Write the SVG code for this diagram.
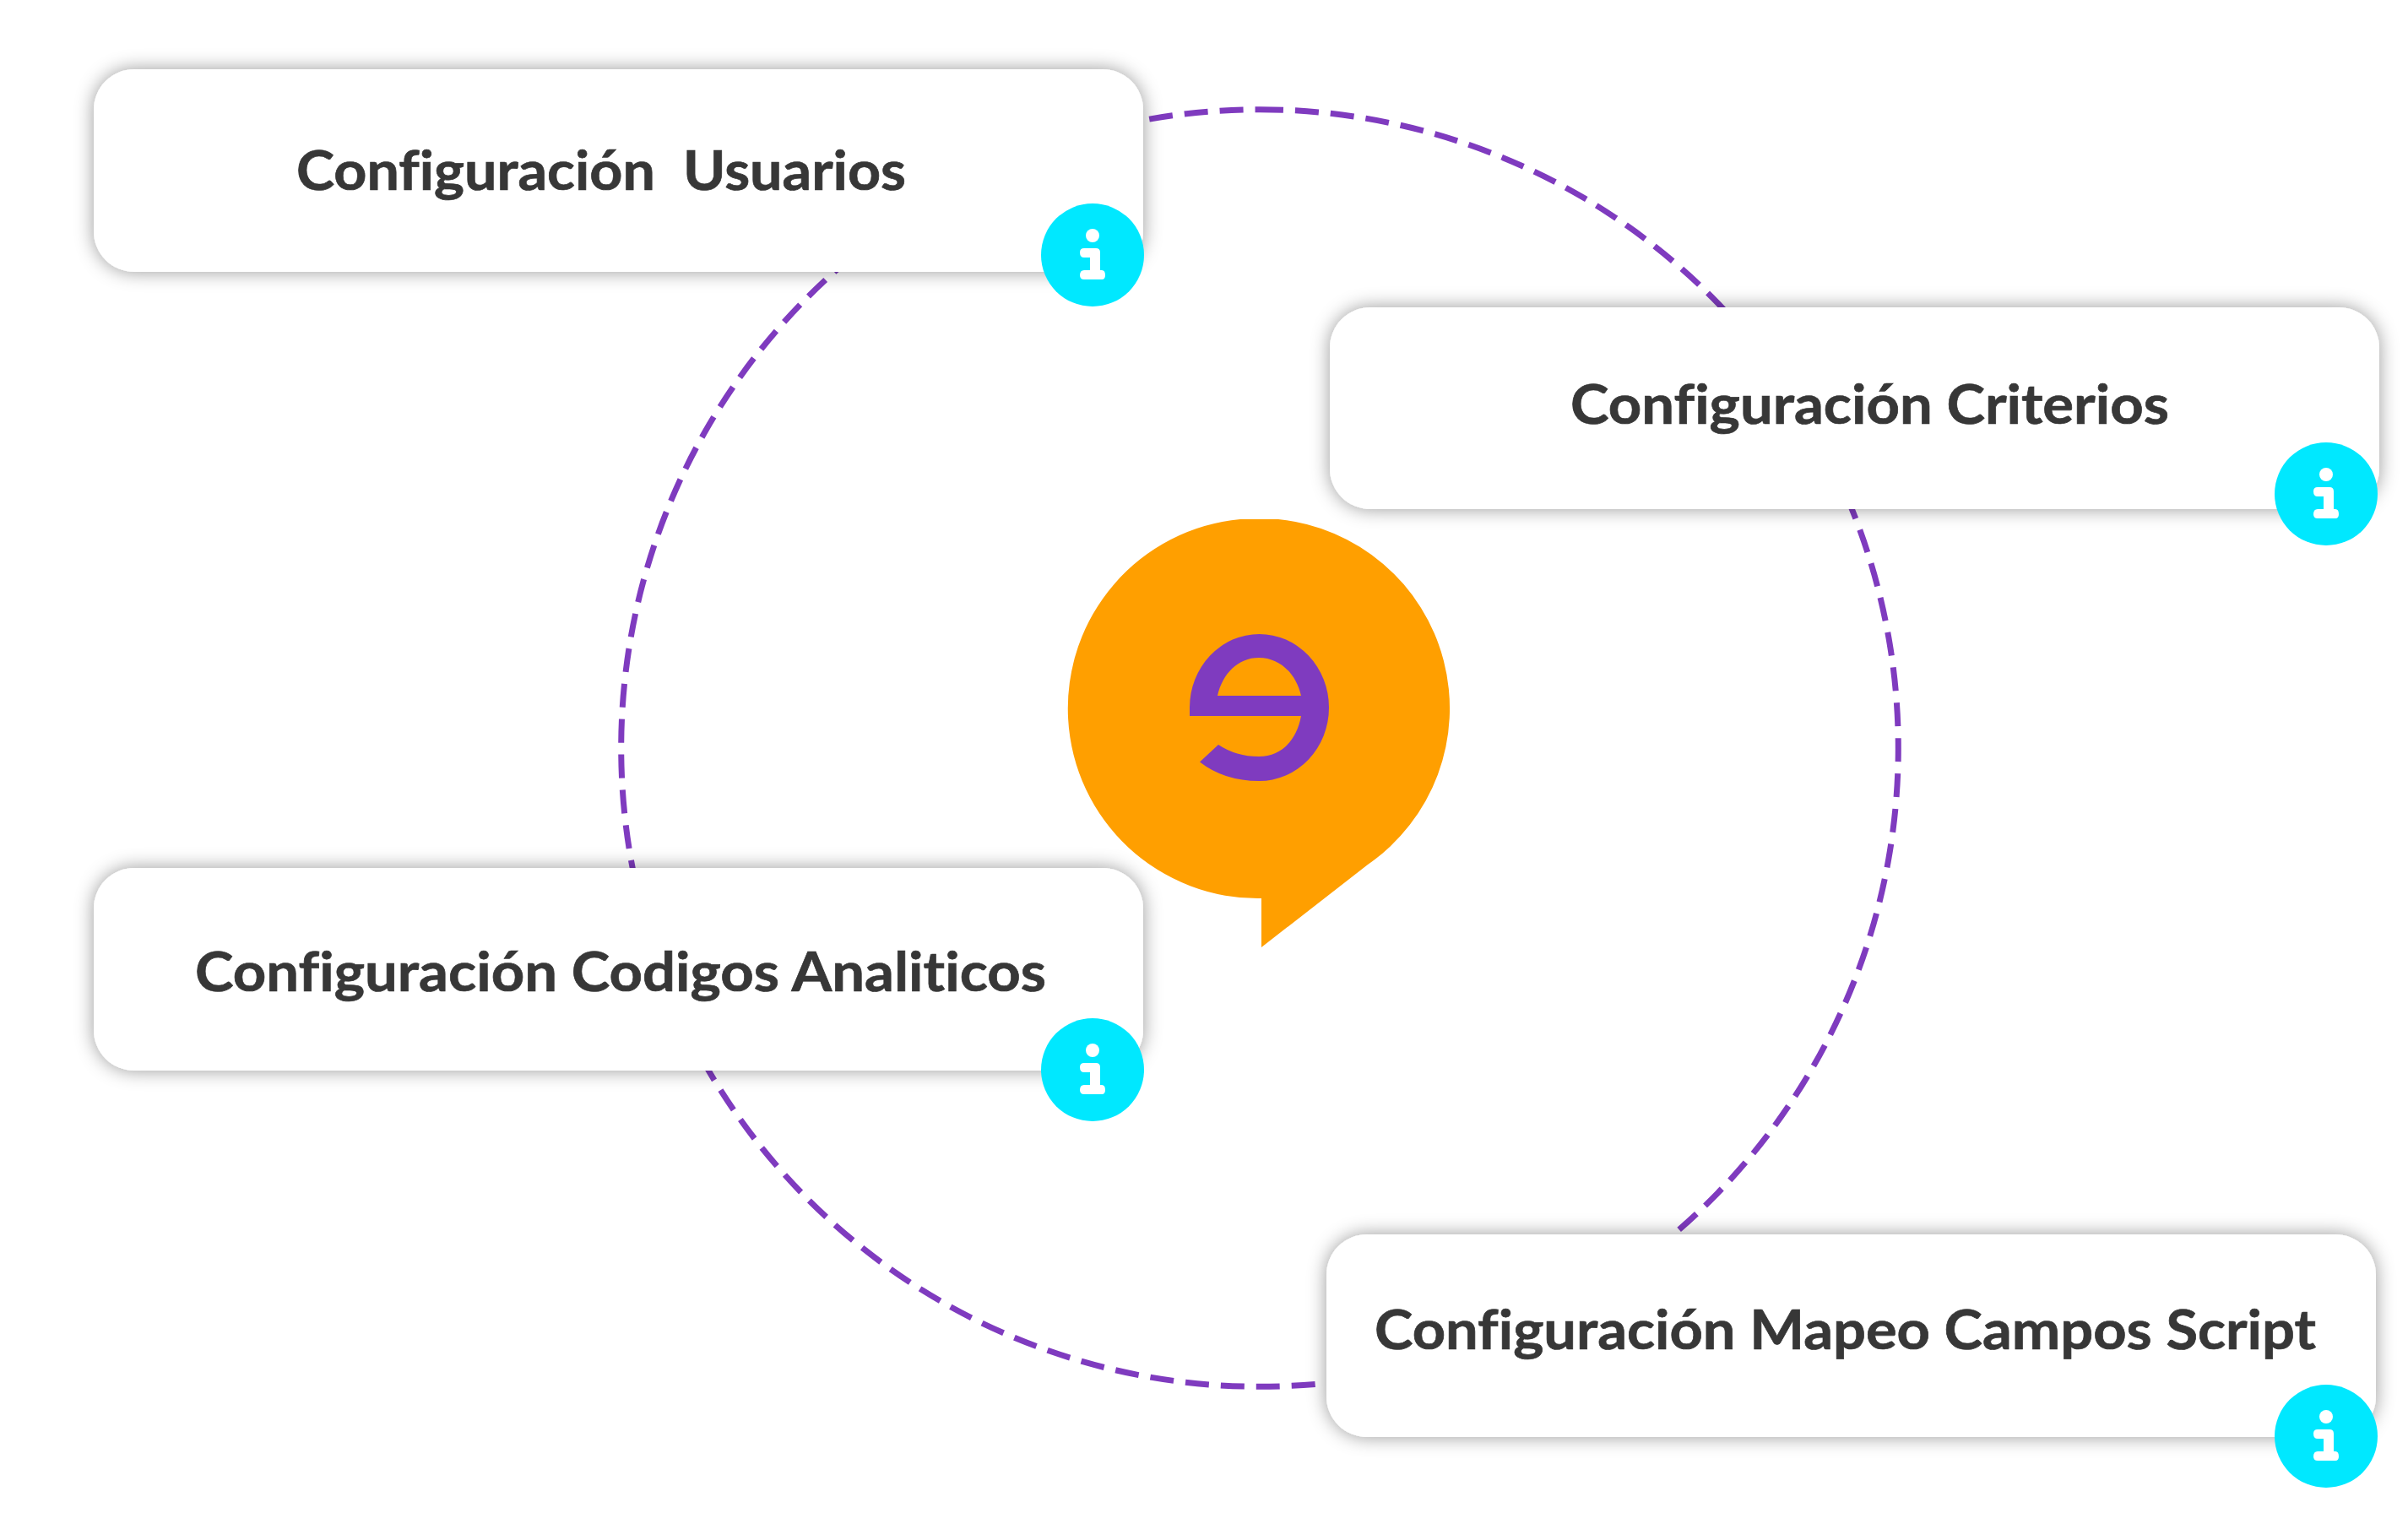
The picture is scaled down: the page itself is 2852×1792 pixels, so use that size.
<svg xmlns="http://www.w3.org/2000/svg" width="2852" height="1792" viewBox="0 0 2852 1792">
<defs>
<style>
.card{fill:#fff;filter:url(#sh)}
.label{font-family:"Lato","Liberation Sans",sans-serif;font-weight:700;font-size:65px;fill:#373737;stroke:#373737;stroke-width:0.7;font-variant-ligatures:none}
.badge{fill:#00e8ff}
.ig{fill:#fff}
.ring{fill:none;stroke:#7f3bbf;stroke-width:7;stroke-dasharray:28 14}
</style>
<filter id="sh" x="-10%" y="-30%" width="120%" height="160%"><feDropShadow dx="0" dy="0" stdDeviation="11" flood-color="#000" flood-opacity="0.4"/></filter>
<g id="info">
<circle class="badge" cx="0" cy="0" r="61"/>
<circle class="ig" cx="0" cy="-23" r="8"/>
<path class="ig" d="M-10 -8H4Q9 -8 9 -3V18H11Q15 18 15 24Q15 29 11 29H-10Q-15 29 -15 24Q-15 18 -10 18H-3V3H-10Q-15 3 -15 -3Q-15 -8 -10 -8Z"/>
</g>
</defs>
<rect width="2852" height="1792" fill="#fff"/>
<g id="connectors"><circle class="ring" cx="1492" cy="886" r="756.300" transform="rotate(-90 1492 886)"/></g>
<g id="center">
<path fill="#ff9f00" d="M1469 615H1514A225 225 0 0 1 1620 1024L1494 1122V1064A225 225 0 0 1 1469 615Z"/>
<path fill="#7f3bbf" fill-rule="evenodd" d="M1409 848V838A82.500 87 0 0 1 1574 838A82.500 87 0 0 1 1491 925Q1450 925 1421 902.500L1443 882Q1464 896 1491 896C1518 896 1536 876 1541 848ZM1442 824H1541C1535 798 1516 779 1491 779C1466 779 1448 798 1442 824Z"/>
</g>
<g id="node1"><rect class="card" x="111" y="82" width="1243" height="240" rx="48"/><text class="label" x="351" y="225" textLength="722" lengthAdjust="spacingAndGlyphs" xml:space="preserve">Configuración  Usuarios</text><use href="#info" x="1294" y="302"/></g>
<g id="node2"><rect class="card" x="1575" y="364" width="1243" height="239" rx="48"/><text class="label" x="1860" y="502" textLength="709" lengthAdjust="spacingAndGlyphs">Configuración Criterios</text><use href="#info" x="2755" y="585"/></g>
<g id="node3"><rect class="card" x="111" y="1028" width="1243" height="240" rx="48"/><text class="label" x="231" y="1174" textLength="1008" lengthAdjust="spacingAndGlyphs">Configuración Codigos Analiticos</text><use href="#info" x="1294" y="1267"/></g>
<g id="node4"><rect class="card" x="1571" y="1462" width="1243" height="240" rx="48"/><text class="label" x="1628" y="1598" textLength="1115" lengthAdjust="spacingAndGlyphs">Configuración Mapeo Campos Script</text><use href="#info" x="2755" y="1701"/></g>
</svg>
